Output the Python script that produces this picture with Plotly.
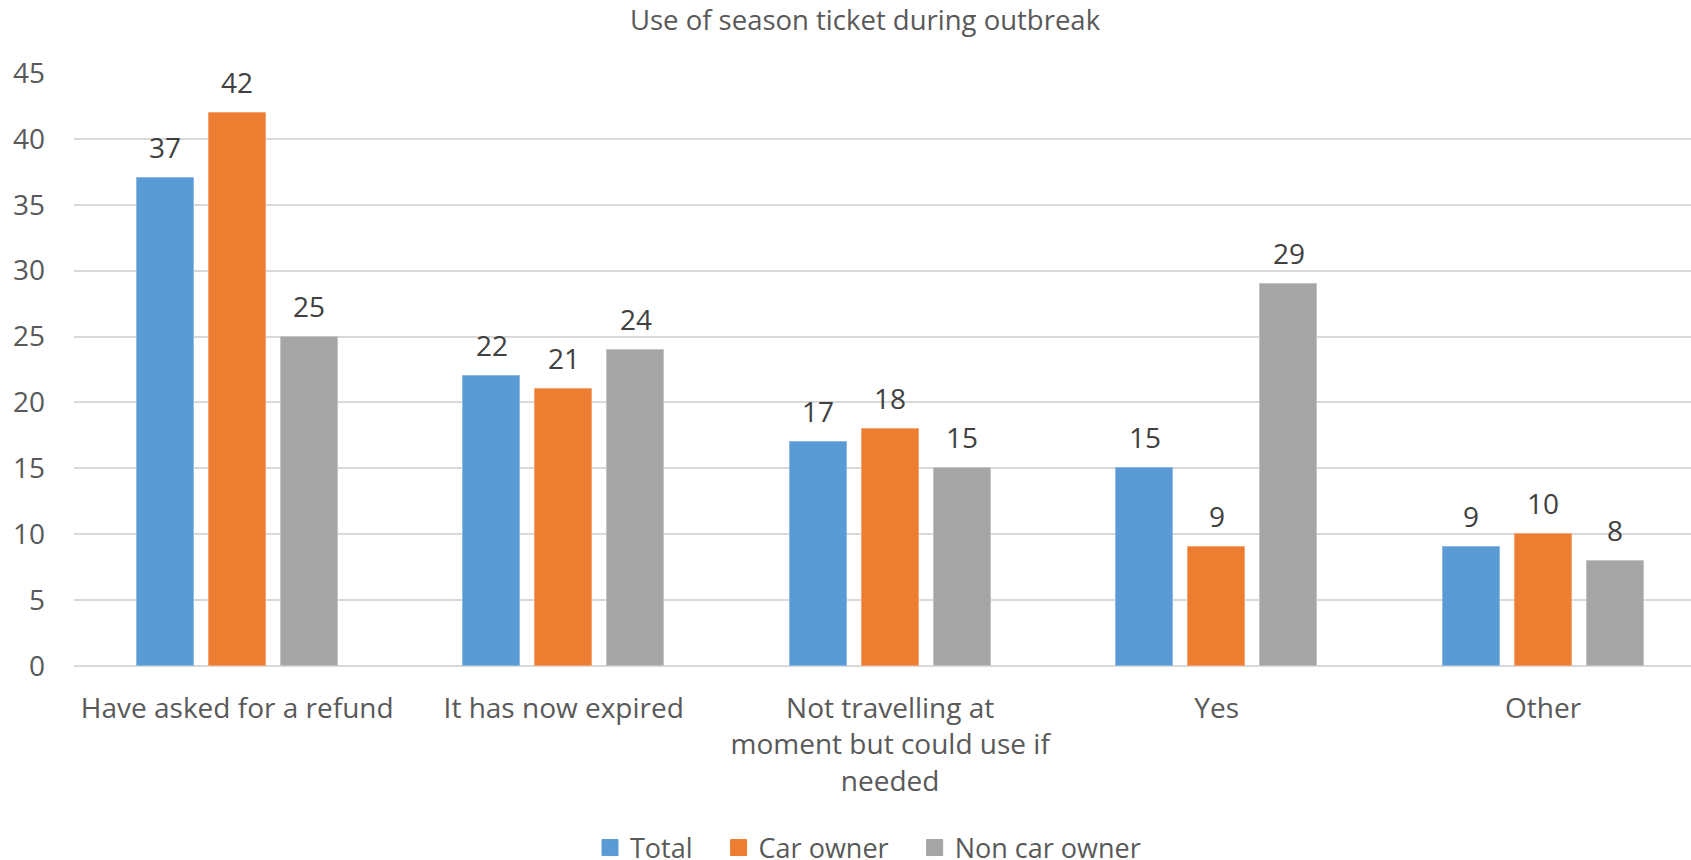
import plotly.graph_objects as go

# Survey responses (percent) by car ownership
categories = [
    "Have asked for a refund",
    "It has now expired",
    "Not travelling at<br>moment but could use if<br>needed",
    "Yes",
    "Other",
]
series_names = ["Total", "Car owner", "Non car owner"]
total = [37, 22, 17, 15, 9]
car_owner = [42, 21, 18, 9, 10]
non_car_owner = [25, 24, 15, 29, 8]

colors = ["#5B9BD5", "#ED7D31", "#A5A5A5"]
edge_colors = ["#8DB9E6", "#F4A572", "#C4C4C4"]
y_ticks = [0, 5, 10, 15, 20, 25, 30, 35, 40, 45]

FONT = "Open Sans"
BAR_W = 0.175
STEP = 0.2205
W, H = 1691, 860
NBSP = "\u00a0"

fig = go.Figure()
xs = list(range(len(categories)))
for k, (name, vals) in enumerate(zip(series_names, [total, car_owner, non_car_owner])):
    shift = (k - 1) * STEP
    fig.add_trace(go.Bar(
        x=xs, y=vals, name=name,
        width=BAR_W, offset=shift - BAR_W / 2,
        marker=dict(color=colors[k], line=dict(color=edge_colors[k], width=1)),
        showlegend=False, legendgroup=name,
    ))
    # legend entry with a larger square swatch
    label = name if k == len(series_names) - 1 else name + NBSP * 3
    fig.add_trace(go.Scatter(
        x=[None], y=[None], mode="markers", name=label, legendgroup=name,
        marker=dict(symbol="square", size=16, color=colors[k],
                    line=dict(color=colors[k], width=1)),
    ))
    for i, v in enumerate(vals):
        fig.add_annotation(
            x=i + shift, y=v, text=str(v), showarrow=False,
            xanchor="center", yanchor="bottom", yshift=10,
            font=dict(family=FONT, size=28, color="#404040"),
        )

fig.update_layout(
    width=W, height=H,
    margin=dict(l=74, r=0, t=73, b=194),
    paper_bgcolor="white", plot_bgcolor="white",
    barmode="overlay",
    showlegend=True,
    title=dict(
        text="Use of season ticket during outbreak",
        x=865 / W, xref="container", xanchor="center",
        y=1 - 20 / H, yref="container", yanchor="middle",
        font=dict(family=FONT, size=27.5, color="#595959"),
    ),
    legend=dict(
        orientation="h", x=590 / W, xanchor="left", xref="container",
        y=1 - 848 / H, yanchor="middle", yref="container",
        font=dict(family=FONT, size=27, color="#595959"),
        itemsizing="trace", traceorder="normal",
        itemwidth=30,
    ),
    xaxis=dict(
        range=[-0.5, 4.453],
        tickmode="array", tickvals=xs, ticktext=categories,
        tickfont=dict(family=FONT, size=28, color="#595959"),
        showgrid=False, zeroline=False, showline=False,
        ticks="", ticklabelstandoff=23,
        fixedrange=True,
    ),
    yaxis=dict(
        range=[0, 45],
        tickmode="array", tickvals=y_ticks,
        tickfont=dict(family=FONT, size=28, color="#595959"),
        showgrid=True, gridcolor="#D9D9D9", gridwidth=2,
        zeroline=True, zerolinecolor="#D9D9D9", zerolinewidth=2,
        showline=False, ticks="", ticklabelstandoff=28,
        fixedrange=True,
    ),
    bargap=0, bargroupgap=0,
)

fig.write_html("out.html")
